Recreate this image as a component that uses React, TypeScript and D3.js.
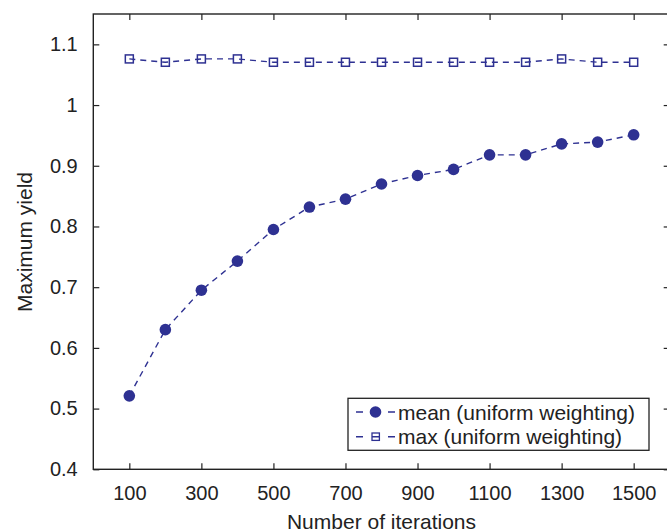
import { useEffect, useRef } from "react";
import * as d3 from "d3";

// values
const iterations = [100, 200, 300, 400, 500, 600, 700, 800, 900, 1000, 1100, 1200, 1300, 1400, 1500];
const meanYield = [0.521, 0.63, 0.695, 0.743, 0.795, 0.832, 0.845, 0.87, 0.884, 0.894, 0.918, 0.918, 0.936, 0.939, 0.951];
const maxYield = [1.076, 1.0705, 1.076, 1.076, 1.0705, 1.0705, 1.0705, 1.0705, 1.0705, 1.0705, 1.0705, 1.0705, 1.076, 1.0705, 1.0705];
const xTicks = [100, 300, 500, 700, 900, 1100, 1300, 1500];
const yTicks = [0.4, 0.5, 0.6, 0.7, 0.8, 0.9, 1, 1.1];
const legendLabels = ["mean (uniform weighting)", "max (uniform weighting)"];

const BLUE = "#2e3192";
const INK = "#222";
const FONT = "'Liberation Sans', Arial, Helvetica, sans-serif";

const App = () => {
  const svgRef = useRef<SVGSVGElement>(null);

  useEffect(() => {
    const width = 667;
    const height = 530;
    const margin = { top: 14, right: -2.7, bottom: 60.7, left: 93.3 };

    const svg = d3.select(svgRef.current);
    svg.selectAll("*").remove();
    svg.attr("width", width).attr("height", height);

    const x = d3.scaleLinear().domain([0, 1600]).range([margin.left, width - margin.right]);
    const y = d3.scaleLinear().domain([0.4, 1.15]).range([height - margin.bottom, margin.top]);

    const x0 = x.range()[0], x1 = x.range()[1];
    const y0 = y.range()[0], y1 = y.range()[1];

    // axes with inward ticks
    const bottom = svg.append("g")
      .attr("transform", `translate(0,${y0})`)
      .call(d3.axisBottom(x).tickValues(xTicks).tickSize(-6).tickSizeOuter(0).tickPadding(17).tickFormat(d3.format("d")));
    const left = svg.append("g")
      .attr("transform", `translate(${x0},0)`)
      .call(d3.axisLeft(y).tickValues(yTicks).tickSize(-6).tickSizeOuter(0).tickPadding(15.6).tickFormat(d3.format("~g")));
    svg.append("g")
      .attr("transform", `translate(0,${y1})`)
      .call(d3.axisTop(x).tickValues(xTicks).tickSize(-6).tickSizeOuter(0).tickFormat(() => ""));
    svg.append("g")
      .attr("transform", `translate(${x1},0)`)
      .call(d3.axisRight(y).tickValues(yTicks).tickSize(-6).tickSizeOuter(0).tickFormat(() => ""));

    svg.selectAll(".domain").remove();
    svg.selectAll(".tick line").attr("stroke", INK).attr("stroke-width", 1.2);
    [bottom, left].forEach((g) =>
      g.selectAll("text").attr("fill", INK).style("font-family", FONT).style("font-size", "20px")
    );

    // frame
    svg.append("rect")
      .attr("x", x0).attr("y", y1)
      .attr("width", x1 - x0).attr("height", y0 - y1)
      .attr("fill", "none").attr("stroke", INK).attr("stroke-width", 1.4);

    const line = d3.line<number>()
      .x((d, i) => x(iterations[i]))
      .y((d) => y(d));

    // max series
    svg.append("path")
      .datum(maxYield)
      .attr("fill", "none").attr("stroke", BLUE).attr("stroke-width", 1.4)
      .attr("stroke-dasharray", "6,5")
      .attr("d", line);
    svg.append("g").selectAll("rect")
      .data(maxYield)
      .join("rect")
      .attr("x", (d, i) => x(iterations[i]) - 4)
      .attr("y", (d) => y(d) - 4)
      .attr("width", 8).attr("height", 8)
      .attr("fill", "none").attr("stroke", BLUE).attr("stroke-width", 1.5);

    // mean series
    svg.append("path")
      .datum(meanYield)
      .attr("fill", "none").attr("stroke", BLUE).attr("stroke-width", 1.4)
      .attr("stroke-dasharray", "6,5")
      .attr("d", line);
    svg.append("g").selectAll("circle")
      .data(meanYield)
      .join("circle")
      .attr("cx", (d, i) => x(iterations[i]))
      .attr("cy", (d) => y(d))
      .attr("r", 5.8)
      .attr("fill", BLUE);

    // legend
    const lg = svg.append("g");
    lg.append("rect")
      .attr("x", 348).attr("y", 398.3).attr("width", 301).attr("height", 52)
      .attr("fill", "white").attr("stroke", INK).attr("stroke-width", 1.3);
    const rows = [412, 436.7];
    rows.forEach((ry, k) => {
      lg.append("line")
        .attr("x1", 356).attr("x2", 395).attr("y1", ry).attr("y2", ry)
        .attr("stroke", BLUE).attr("stroke-width", 1.4)
        .attr("stroke-dasharray", "7 9 7 9 7");
      if (k === 0) {
        lg.append("circle").attr("cx", 375.5).attr("cy", ry).attr("r", 5.8).attr("fill", BLUE);
      } else {
        lg.append("rect")
          .attr("x", 372).attr("y", ry - 3.7).attr("width", 7.4).attr("height", 7.4)
          .attr("fill", "none").attr("stroke", BLUE).attr("stroke-width", 1.3);
      }
      lg.append("text")
        .attr("x", 398).attr("y", ry)
        .attr("dominant-baseline", "central")
        .attr("fill", INK)
        .style("font-family", FONT).style("font-size", "21px")
        .text(legendLabels[k]);
    });

    // axis titles
    svg.append("text")
      .attr("x", (x0 + x1) / 2).attr("y", 529)
      .attr("text-anchor", "middle").attr("fill", INK)
      .style("font-family", FONT).style("font-size", "21px")
      .text("Number of iterations");
    svg.append("text")
      .attr("transform", `translate(32,${242}) rotate(-90)`)
      .attr("text-anchor", "middle").attr("fill", INK)
      .style("font-family", FONT).style("font-size", "21px")
      .text("Maximum yield");
  }, []);

  return (
    <div style={{ position: "fixed", left: 0, top: 0, width: 667, height: 530, background: "white" }}>
      <svg ref={svgRef} style={{ display: "block" }}></svg>
    </div>
  );
};

export default App;
